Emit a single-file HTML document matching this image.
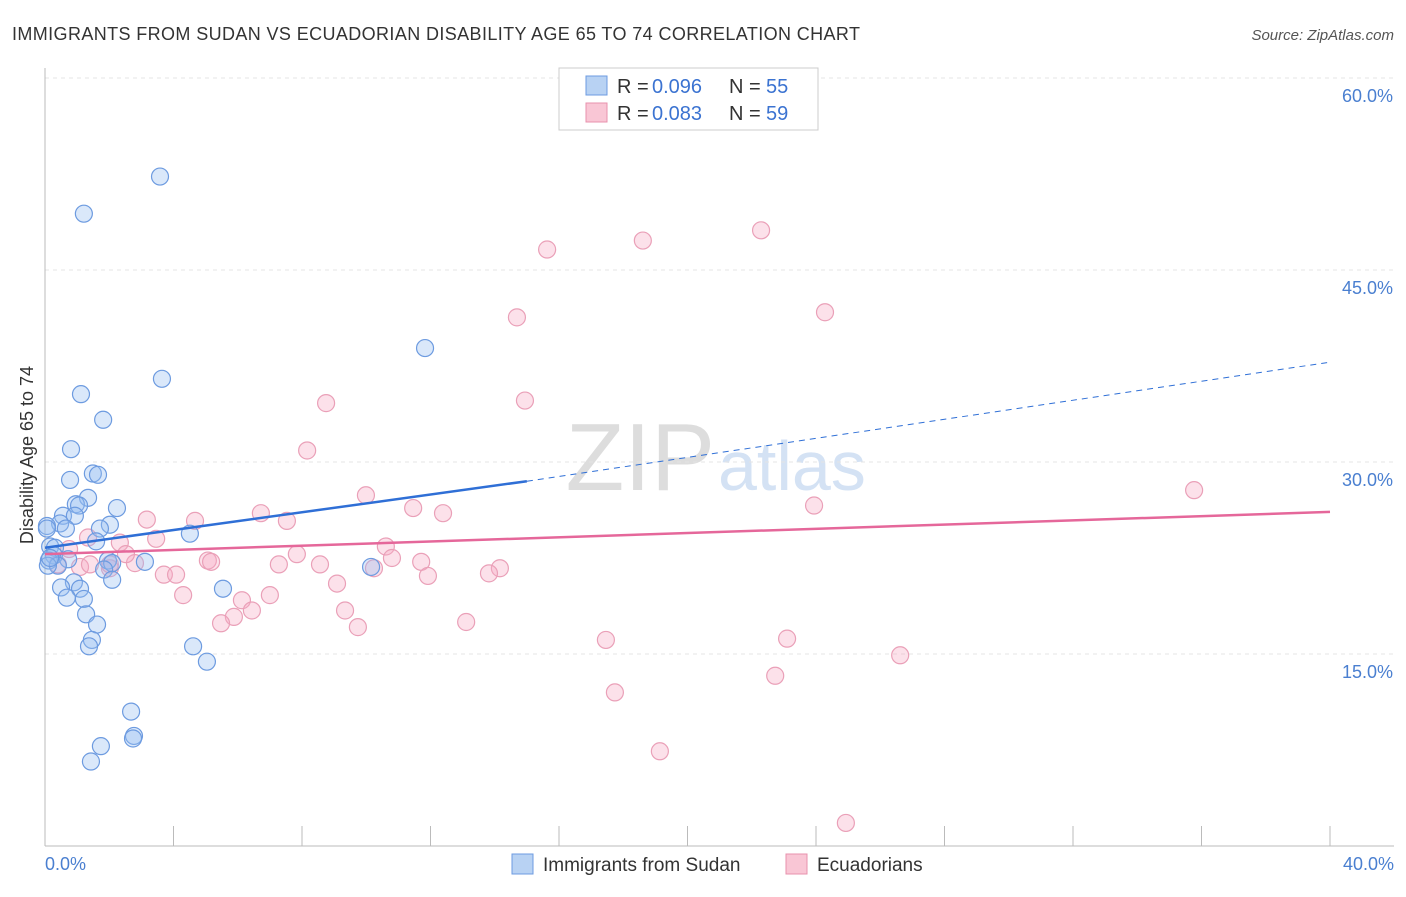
<!DOCTYPE html>
<html><head><meta charset="utf-8"><style>
body{margin:0;background:#fff;font-family:"Liberation Sans",sans-serif;}
svg text{font-family:"Liberation Sans",sans-serif;}
</style></head><body>
<svg id="chart" width="1406" height="892" xmlns="http://www.w3.org/2000/svg">
<text x="12" y="40" font-size="18" fill="#333" textLength="848">IMMIGRANTS FROM SUDAN VS ECUADORIAN DISABILITY AGE 65 TO 74 CORRELATION CHART</text>
<text x="1394" y="40" font-size="15" fill="#555" font-style="italic" text-anchor="end">Source: ZipAtlas.com</text>
<text x="715" y="490" font-size="96" fill="#ddd" text-anchor="end" font-family="Liberation Serif">ZIP</text>
<text x="718" y="490" font-size="70" fill="#d4e2f4">atlas</text>
<g id="grid"></g><g id="axes"></g><g id="marks"></g>
<text x="33" y="455" font-size="18" fill="#333" text-anchor="middle" transform="rotate(-90 33 455)">Disability Age 65 to 74</text>
<text x="45" y="870" font-size="18" fill="#4a7fd0">0.0%</text>
<text x="1394" y="870" font-size="18" fill="#4a7fd0" text-anchor="end">40.0%</text>
<g>
<rect x="559" y="68" width="259" height="62" fill="#fff" stroke="#ccc"/>
<rect x="586" y="76" width="21" height="19" fill="#b8d2f3" stroke="#6d9be0"/>
<rect x="586" y="103" width="21" height="19" fill="#f9c6d5" stroke="#e891ad"/>
<text x="617" y="93" font-size="20" fill="#333">R =</text><text x="652" y="93" font-size="20" fill="#3b73d1">0.096</text>
<text x="729" y="93" font-size="20" fill="#333">N =</text><text x="766" y="93" font-size="20" fill="#3b73d1">55</text>
<text x="617" y="120" font-size="20" fill="#333">R =</text><text x="652" y="120" font-size="20" fill="#3b73d1">0.083</text>
<text x="729" y="120" font-size="20" fill="#333">N =</text><text x="766" y="120" font-size="20" fill="#3b73d1">59</text>
</g>
<g>
<rect x="512" y="854" width="21" height="20" fill="#b8d2f3" stroke="#6d9be0"/>
<text x="543" y="871" font-size="19" fill="#333">Immigrants from Sudan</text>
<rect x="786" y="854" width="21" height="20" fill="#f9c6d5" stroke="#e891ad"/>
<text x="817" y="871" font-size="19" fill="#333">Ecuadorians</text>
</g>
</svg>
<script>
const yTicks=[15,30,45,60];
const yTickLabels=["15.0%","30.0%","45.0%","60.0%"];
const sudanX=[3.58,1.21,11.83,3.64,1.12,1.81,0.81,0.78,1.49,1.65,1.34,0.96,1.06,2.24,0.56,0.93,0.47,0.06,2.02,1.71,0.65,4.51,0.16,0.31,1.59,0.28,0.72,1.96,3.11,2.09,0.12,0.40,1.84,0.09,10.15,2.09,0.90,1.09,0.50,5.54,0.68,1.21,1.28,1.62,1.46,1.37,4.61,5.04,2.68,2.77,2.74,1.74,1.43,0.16,0.06];
const sudanY=[52.3,49.4,38.9,36.5,35.3,33.3,31.0,28.6,29.1,29.0,27.2,26.7,26.6,26.4,25.8,25.8,25.2,25.0,25.1,24.8,24.8,24.4,23.4,23.3,23.8,22.7,22.4,22.3,22.2,22.1,22.3,21.9,21.6,21.9,21.8,20.8,20.6,20.1,20.2,20.1,19.4,19.3,18.1,17.3,16.1,15.6,15.6,14.4,10.5,8.6,8.4,7.8,6.6,22.5,24.8];
const ecuX=[22.29,18.61,15.63,14.69,24.28,8.75,14.94,8.16,35.77,9.99,11.46,12.39,23.94,6.72,4.67,3.17,7.53,10.61,10.80,3.46,2.33,1.34,0.75,7.84,11.71,8.56,5.07,10.24,5.17,7.28,2.80,14.16,13.82,11.92,3.70,4.08,9.09,1.09,2.02,6.13,7.00,4.30,6.44,9.34,5.88,5.48,9.74,13.11,17.46,23.10,26.62,22.73,17.74,19.14,24.93,0.40,2.52,2.02,1.40];
const ecuY=[48.1,47.3,46.6,41.3,41.7,34.6,34.8,30.9,27.8,27.4,26.4,26.0,26.6,26.0,25.4,25.5,25.4,23.4,22.5,24.0,23.7,24.1,23.2,22.8,22.2,22.0,22.3,21.7,22.2,22.0,22.1,21.7,21.3,21.1,21.2,21.2,20.5,21.8,21.7,19.2,19.6,19.6,18.4,18.4,17.9,17.4,17.1,17.5,16.1,16.2,14.9,13.3,12.0,7.4,1.8,22.0,22.8,22.0,22.0];
const X=v=>45+v*32.125, Y=v=>846-v*12.8;
const NS="http://www.w3.org/2000/svg";
function mk(t,a,p){const e=document.createElementNS(NS,t);for(const k in a)e.setAttribute(k,a[k]);p.appendChild(e);return e;}
const grid=document.getElementById('grid'),axes=document.getElementById('axes'),marks=document.getElementById('marks');
yTicks.forEach((t,i)=>{
 const l=mk('line',{x1:45,x2:1394,y1:Y(t),y2:Y(t),stroke:'#e4e4e4','stroke-dasharray':'4,4'},grid);
 
 
 const tx=mk('text',{x:1393,y:Y(t)+24,'font-size':18,fill:'#4a7fd0','text-anchor':'end'},axes);
 tx.textContent=yTickLabels[i];
 
 
});
const ax=mk('line',{x1:45,x2:1394,y1:846,y2:846,stroke:'#bbb'},axes);


const ay=mk('line',{x1:45,x2:45,y1:68,y2:846,stroke:'#bbb'},axes);


for(let i=1;i<=10;i++){const t=mk('line',{x1:X(i*4),x2:X(i*4),y1:826,y2:846,stroke:'#bbb'},axes);
 
 }
ecuX.forEach((v,i)=>{const c=mk('circle',{cx:X(v),cy:Y(ecuY[i]),r:8.5,fill:'rgba(245,170,195,0.35)',stroke:'#eaa0b8','stroke-width':1.2},marks);
 
 });
sudanX.forEach((v,i)=>{const c=mk('circle',{cx:X(v),cy:Y(sudanY[i]),r:8.5,fill:'rgba(150,190,240,0.35)',stroke:'#6d9be0','stroke-width':1.2},marks);
 
 });
const bl=mk('line',{x1:X(0),y1:Y(23.3),x2:X(15),y2:Y(28.5),stroke:'#2f6fd6','stroke-width':2.5},marks);


const bd=mk('line',{x1:X(15),y1:Y(28.5),x2:X(40),y2:Y(37.8),stroke:'#2f6fd6','stroke-width':1,'stroke-dasharray':'6,5'},marks);


const pl=mk('line',{x1:X(0),y1:Y(22.8),x2:X(40),y2:Y(26.1),stroke:'#e5679a','stroke-width':2.5},marks);


</script>
</body></html>
